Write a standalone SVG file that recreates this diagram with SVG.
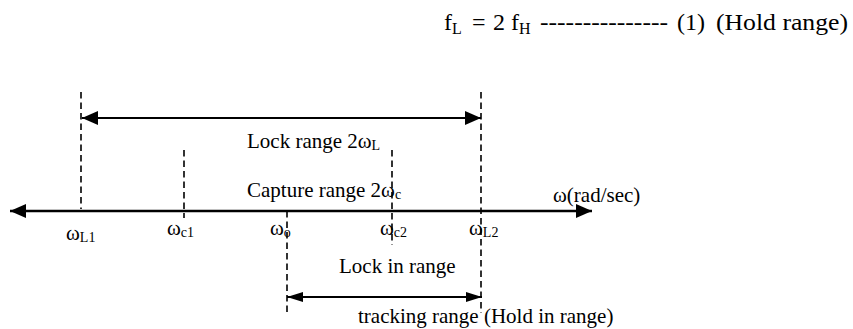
<svg xmlns="http://www.w3.org/2000/svg" width="853" height="329" viewBox="0 0 853 329">
<style>
text{font-family:"Liberation Serif","Times New Roman",serif;fill:#000}
.t{font-size:21px}
.top{font-size:24px}
.sub{font-size:14px}
.dash{stroke:#000;stroke-width:1.6;stroke-dasharray:6.5 4;fill:none}
.ln{stroke:#000;fill:none}
</style>
<defs>
<marker id="ah" viewBox="0 0 16 14" refX="16" refY="7" markerWidth="16" markerHeight="14" markerUnits="userSpaceOnUse" orient="auto-start-reverse"><path d="M0,0 L16,7 L0,14 Z" fill="#000"/></marker>
<marker id="ahs" viewBox="0 0 16 10" refX="16" refY="5" markerWidth="16" markerHeight="10" markerUnits="userSpaceOnUse" orient="auto-start-reverse"><path d="M0,0 L16,5 L0,10 Z" fill="#000"/></marker>
</defs>
<rect width="853" height="329" fill="#fff"/>
<g id="equation">
<text class="top" y="30"><tspan x="444">f</tspan><tspan x="452" dy="4" style="font-size:16px">L</tspan><tspan x="472" dy="-4">=</tspan><tspan x="493">2</tspan><tspan x="511">f</tspan><tspan x="519" dy="4" style="font-size:16px">H</tspan><tspan x="540" dy="-4" textLength="128" lengthAdjust="spacingAndGlyphs">---------------</tspan><tspan x="677">(1)</tspan><tspan x="716" textLength="132" lengthAdjust="spacingAndGlyphs">(Hold range)</tspan></text>
</g>
<g id="connectors">
<line class="dash" x1="81" y1="92" x2="81" y2="209"/>
<line class="dash" x1="184" y1="150" x2="184" y2="218"/>
<line class="dash" x1="287" y1="211" x2="287" y2="313"/>
<line class="dash" x1="392" y1="150" x2="392" y2="245"/>
<line class="dash" x1="481" y1="92" x2="481" y2="313"/>
<line class="ln" x1="82" y1="118" x2="481" y2="118" stroke-width="2" marker-start="url(#ah)" marker-end="url(#ah)"/>
<line class="ln" x1="10" y1="211" x2="592" y2="211" stroke-width="2.5" marker-start="url(#ah)" marker-end="url(#ah)"/>
<line class="ln" x1="287" y1="297" x2="482" y2="297" stroke-width="2" marker-start="url(#ahs)" marker-end="url(#ahs)"/>
</g>
<g id="lock-range">
<text class="t" x="247" y="148">Lock range 2ω<tspan class="sub" dy="2">L</tspan></text>
</g>
<g id="capture-range">
<text class="t" x="247" y="197">Capture range 2ω<tspan class="sub" dy="2">c</tspan></text>
</g>
<g id="axis-label">
<text class="t" x="553" y="202">ω(rad/sec)</text>
</g>
<g id="wL1"><text class="t" x="66" y="240">ω<tspan class="sub" dy="2">L1</tspan></text></g>
<g id="wc1"><text class="t" x="167" y="235">ω<tspan class="sub" dy="2">c1</tspan></text></g>
<g id="wo"><text class="t" x="270" y="235">ω<tspan class="sub" dy="2">o</tspan></text></g>
<g id="wc2"><text class="t" x="380" y="235">ω<tspan class="sub" dy="2">c2</tspan></text></g>
<g id="wL2"><text class="t" x="469" y="235">ω<tspan class="sub" dy="2">L2</tspan></text></g>
<g id="lock-in-range">
<text class="t" x="339" y="273">Lock in range</text>
</g>
<g id="tracking-range">
<text class="t" x="358" y="323">tracking range (Hold in range)</text>
</g>
</svg>
